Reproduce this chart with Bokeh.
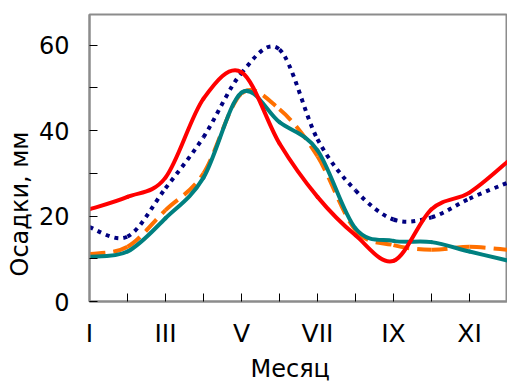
from bokeh.plotting import figure
from bokeh.models import Range1d, FixedTicker, Title, ColumnDataSource
from bokeh.embed import file_html
from bokeh.resources import INLINE

# ---- data (monthly precipitation, mm) ----
months = [1, 2, 3, 4, 5, 6, 7, 8, 9, 10, 11, 12]
month_labels = {1: "I", 3: "III", 5: "V", 7: "VII", 9: "IX", 11: "XI"}
red_vals = [21.6, 24.5, 29.0, 47.5, 53.7, 37.0, 24.5, 15.5, 9.5, 21.6, 25.5, 32.7]
navy_vals = [17.4, 15.2, 26.5, 38.5, 53.5, 59.0, 38.0, 26.0, 19.2, 19.7, 24.1, 27.8]
orange_vals = [11.1, 12.8, 21.4, 30.0, 48.7, 45.0, 34.0, 16.7, 13.2, 12.1, 12.8, 12.1]
teal_vals = [10.5, 11.7, 19.5, 29.0, 48.9, 42.0, 35.4, 17.1, 14.2, 13.9, 11.7, 9.6]
y_ticks = [0, 10, 20, 30, 40, 50, 60]
y_labels = {0: "0", 20: "20", 40: "40", 60: "60"}

FONT = "DejaVu Sans"


def smooth_source(xs, ys):
    """Bezier control points (Catmull-Rom style, like a spreadsheet 'smoothed line')."""
    n = len(xs)
    d = dict(x0=[], y0=[], x1=[], y1=[], cx0=[], cy0=[], cx1=[], cy1=[])
    for i in range(n - 1):
        xm, ym = (xs[i - 1], ys[i - 1]) if i > 0 else (xs[i], ys[i])
        xp, yp = (xs[i + 2], ys[i + 2]) if i + 2 < n else (xs[i + 1], ys[i + 1])
        d["x0"].append(xs[i]); d["y0"].append(ys[i])
        d["x1"].append(xs[i + 1]); d["y1"].append(ys[i + 1])
        d["cx0"].append(xs[i] + (xs[i + 1] - xm) / 6.0)
        d["cy0"].append(ys[i] + (ys[i + 1] - ym) / 6.0)
        d["cx1"].append(xs[i + 1] - (xp - xs[i]) / 6.0)
        d["cy1"].append(ys[i + 1] - (yp - ys[i]) / 6.0)
    return ColumnDataSource(d)


p = figure(width=507, height=385, output_backend="svg", toolbar_location=None,
           x_range=Range1d(1, 12), y_range=Range1d(0, 67.2),
           min_border_left=89, min_border_right=0, min_border_top=14, min_border_bottom=83)
p.grid.visible = False
p.outline_line_color = "#8c8c8c"
p.outline_line_width = 2
p.background_fill_color = "white"
p.border_fill_color = "white"

for ax in (p.xaxis[0], p.yaxis[0]):
    ax.axis_line_color = "#8c8c8c"
    ax.axis_line_width = 2
    ax.major_tick_line_color = "black"
    ax.major_tick_line_width = 1
    ax.major_tick_in = 8
    ax.major_tick_out = 0
    ax.minor_tick_line_color = None
    ax.major_label_text_font = FONT
    ax.major_label_text_color = "black"

p.xaxis.ticker = FixedTicker(ticks=months)
p.xaxis.major_label_overrides = {m: month_labels.get(m, "") for m in months}
p.xaxis.major_label_text_font_size = "25px"
p.xaxis.major_label_standoff = 17

p.yaxis.ticker = FixedTicker(ticks=y_ticks)
p.yaxis.major_label_overrides = {t: y_labels.get(t, "") for t in y_ticks}
p.yaxis.major_label_text_font_size = "24px"
p.yaxis.major_label_standoff = 20
p.yaxis.major_label_orientation = "horizontal"

series = [
    (orange_vals, "#ff7000", "16 8", "butt"),
    (teal_vals, "#008080", None, "round"),
    (navy_vals, "#000080", "4 5", "butt"),
    (red_vals, "#ff0000", None, "round"),
]
for vals, color, dash, cap in series:
    src = smooth_source(months, vals)
    kw = dict(line_color=color, line_width=4, line_cap=cap)
    if dash:
        kw["line_dash"] = dash
    p.bezier(x0="x0", y0="y0", x1="x1", y1="y1", cx0="cx0", cy0="cy0",
             cx1="cx1", cy1="cy1", source=src, **kw)

p.add_layout(Title(text="Осадки, мм", align="left", offset=25,
                   text_font=FONT, text_font_size="24px", text_font_style="normal",
                   text_color="black", standoff=4), "left")
p.add_layout(Title(text="Месяц", align="left", offset=161,
                   text_font=FONT, text_font_size="24px", text_font_style="normal",
                   text_color="black", standoff=5), "below")

open("out.html", "w").write(file_html(p, INLINE))
